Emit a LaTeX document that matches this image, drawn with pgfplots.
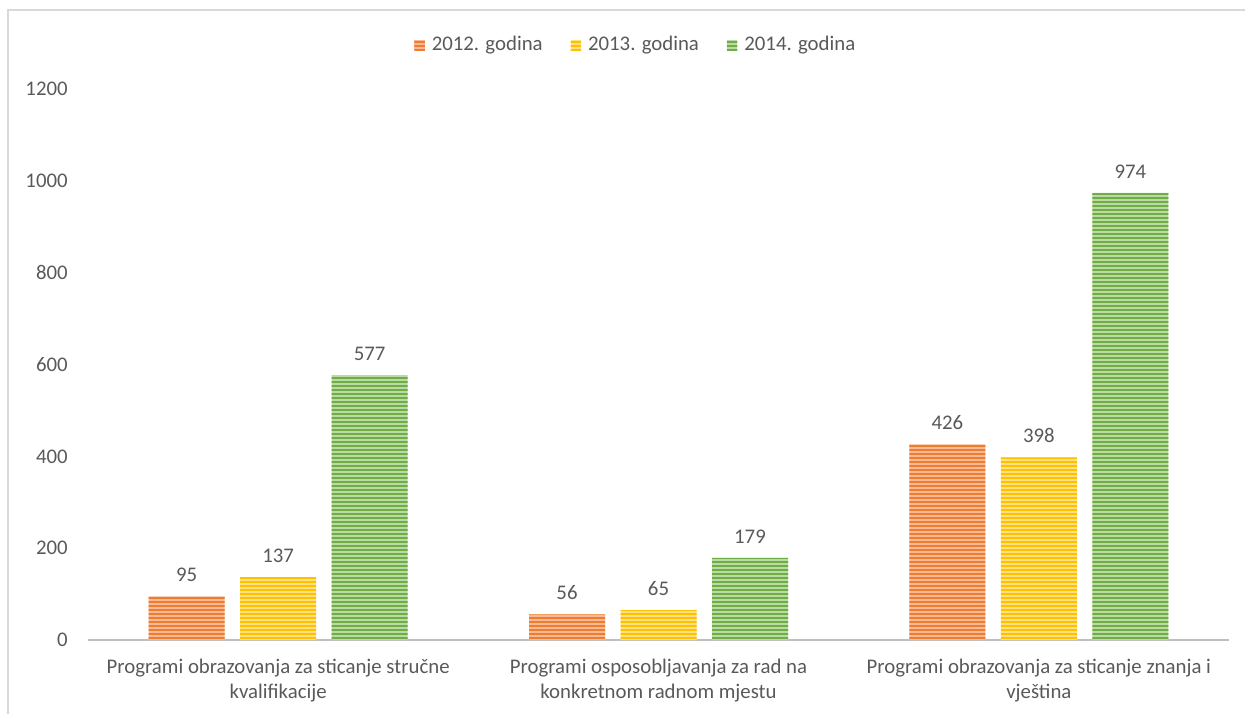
\documentclass[border=0pt]{standalone}
\usepackage{pgfplots}
\pgfplotsset{compat=1.18}
\usepackage{fontspec}
\setmainfont{Carlito}
\usetikzlibrary{patterns.meta}
\definecolor{txt}{HTML}{595959}
\definecolor{oS}{HTML}{ED7D31}\definecolor{oB}{HTML}{F8B994}
\definecolor{yS}{HTML}{FFC000}\definecolor{yB}{HTML}{FFE183}
\definecolor{gS}{HTML}{70AD47}\definecolor{gB}{HTML}{B9DAA3}
\begin{document}
\fontsize{10.4}{12.5}\selectfont
\begin{tikzpicture}
\path[use as bounding box] (-44pt,-37pt) rectangle (578.5pt,320pt);
\draw[color=black!15, line width=1pt] (-39.75pt,-37pt) -- (-39.75pt,314.75pt) -- (578.5pt,314.75pt);
\begin{axis}[
  at={(0pt,0pt)}, anchor=south west,
  scale only axis, width=570.5pt, height=275.5pt,
  xmin=0, xmax=3, ymin=0, ymax=1200,
  ybar=7.75pt, bar width=38pt,
  axis x line=bottom, axis y line=left,
  y axis line style={draw=none},
  x axis line style={-, draw=black!25, line width=1pt},
  major tick length=0pt,
  xtick={0.5,1.5,2.5},
  xticklabels={{Programi obrazovanja za sticanje stručne\\kvalifikacije},
               {Programi osposobljavanja za rad na\\konkretnom radnom mjestu},
               {Programi obrazovanja za sticanje znanja i\\vještina}},
  xticklabel style={align=center, text=txt, font=\fontsize{10.4}{12.5}\selectfont, yshift=-6pt},
  ytick={0,200,400,600,800,1000,1200},
  yticklabel style={text=txt, font=\fontsize{10.4}{12.5}\selectfont, xshift=-6.5pt},
  /pgf/number format/assume math mode=true,
  /pgf/number format/1000 sep={},
  nodes near coords,
  nodes near coords style={text=txt, font=\fontsize{10.4}{12.5}\selectfont, yshift=3.7pt},
  legend columns=3,
  legend style={at={(0.481,1.08)}, anchor=center, draw=none, fill=none,
    font=\fontsize{10.4}{12.5}\selectfont, text=txt,
    /tikz/every even column/.append style={column sep=12pt},
    /tikz/every odd column/.append style={column sep=0pt}},
  legend image code/.code={\draw[#1, draw=none] (0pt,-2.6pt) rectangle (5.2pt,2.6pt); \path (6.7pt,0pt);},
]
\addplot[fill=oB, draw=none, postaction={pattern={Lines[angle=0,distance=2pt,line width=0.6pt]}, pattern color=oS}]
  coordinates {(0.5,95) (1.5,56) (2.5,426)};
\addplot[fill=yB, draw=none, postaction={pattern={Lines[angle=0,distance=2pt,line width=0.6pt]}, pattern color=yS}]
  coordinates {(0.5,137) (1.5,65) (2.5,398)};
\addplot[fill=gB, draw=none, postaction={pattern={Lines[angle=0,distance=2pt,line width=0.6pt]}, pattern color=gS}]
  coordinates {(0.5,577) (1.5,179) (2.5,974)};
\legend{2012. godina, 2013. godina, 2014. godina}
\end{axis}
\end{tikzpicture}
\end{document}
